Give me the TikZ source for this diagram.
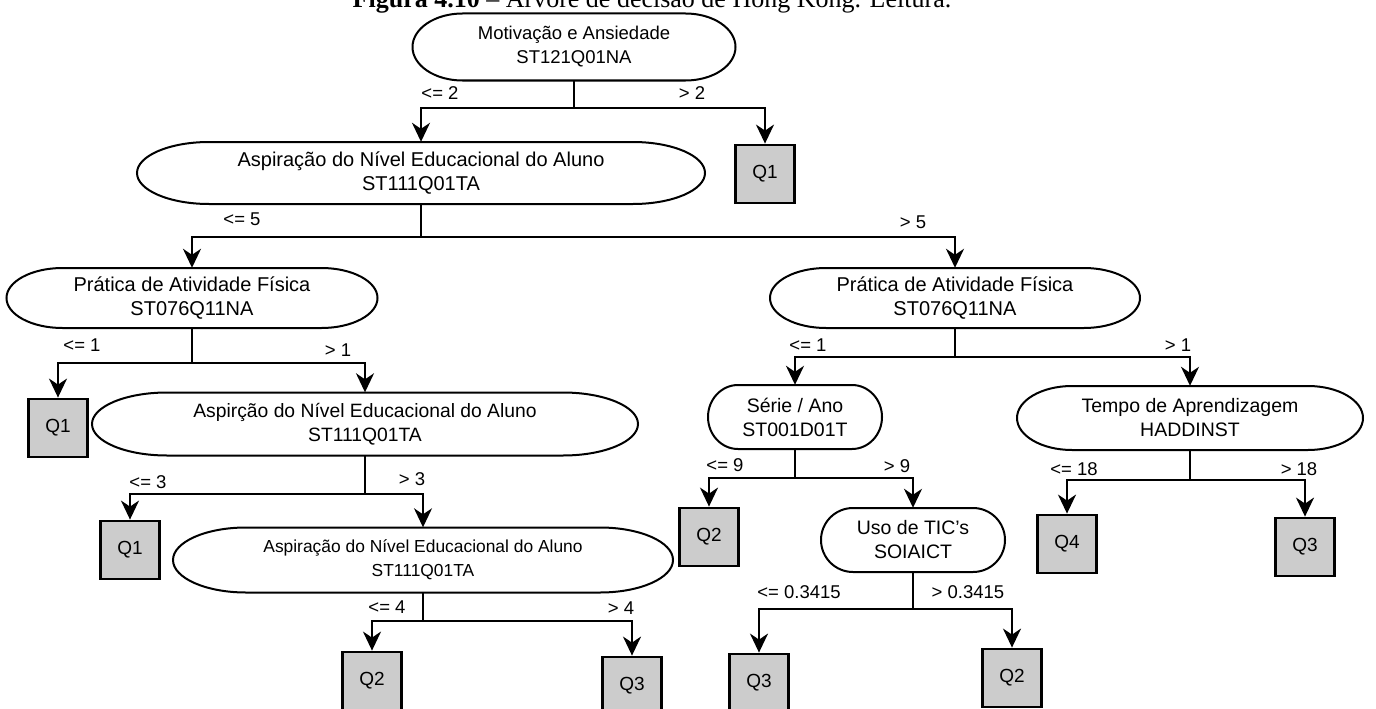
\documentclass[tikz,border=0pt]{standalone}
\usepackage{fontspec}
\setmainfont{Liberation Sans}
\newfontfamily\captionserif{Liberation Serif}
\usetikzlibrary{arrows.meta}
\definecolor{leafgray}{RGB}{204,204,204}

\tikzset{
  dtext/.style={align=center, inner sep=0pt, draw=none},
  dshape/.style={draw=black, line width=2pt, fill=white},
  leaf/.style={draw=black, fill=leafgray, line width=2.8pt, minimum width=59pt,
    minimum height=58pt, inner sep=0pt, font=\fontsize{19}{22}\selectfont},
  edge/.style={draw=black, line width=2pt, -{Stealth[length=19pt,width=18pt,inset=6pt]}},
  lbl/.style={inner sep=0pt, font=\fontsize{18.5}{20}\selectfont},
  captiontext/.style={inner sep=0pt, anchor=base, font=\captionserif\fontsize{26}{30}\selectfont}
}

% decision node: name, x, y, width, height, cap radius, font size, text
\newcommand\decnode[8]{%
  \draw[dshape] ({#2-#4/2+#6},{#3-#5/2}) -- ({#2+#4/2-#6},{#3-#5/2})
    arc[start angle=90, end angle=-90, x radius=#6pt, y radius=#5pt/2]
    -- ({#2-#4/2+#6},{#3+#5/2})
    arc[start angle=270, end angle=90, x radius=#6pt, y radius=#5pt/2] -- cycle;
  \node[dtext, minimum width=#4pt, minimum height=#5pt,
    font=\fontsize{#7}{24}\selectfont] (#1) at (#2,#3) {#8};
}

\begin{document}
\begin{tikzpicture}[x=1pt, y=-1pt]
\clip (0,0) rectangle (1376,709);
\useasboundingbox (0,0) rectangle (1376,709);

% caption
\node[captiontext] (caption) at (652,8) {\textbf{Figura 4.10} – Árvore de decisão de Hong Kong. Leitura.};

% decision nodes
\decnode{root}{574}{47}{323}{67}{50}{18.5}{Motivação e Ansiedade\\ST121Q01NA}
\decnode{asp1}{421}{173}{568}{62}{72}{20}{Aspiração do Nível Educacional do Aluno\\ST111Q01TA}
\decnode{praL}{192}{298}{371}{60}{56}{20}{Prática de Atividade Física\\ST076Q11NA}
\decnode{praR}{955}{298}{370}{60}{56}{20}{Prática de Atividade Física\\ST076Q11NA}
\decnode{asp2}{365}{424}{546}{63}{75}{19.3}{Aspirção do Nível Educacional do Aluno\\ST111Q01TA}
\decnode{asp3}{423}{560}{500}{65}{73}{17.4}{Aspiração do Nível Educacional do Aluno\\ST111Q01TA}
\decnode{serie}{795}{417}{174}{64}{30}{19.5}{Série / Ano\\ST001D01T}
\decnode{tempo}{1190}{418}{346}{64}{55}{19.5}{Tempo de Aprendizagem\\HADDINST}
\decnode{tic}{913}{540}{184}{64}{32}{19.5}{Uso de TIC's\\SOIAICT}

% leaf nodes
\node[leaf] (q1a) at (765,174) {Q1};
\node[leaf] (q1b) at (58,428) {Q1};
\node[leaf] (q1c) at (130,550) {Q1};
\node[leaf] (q2a) at (372,681) {Q2};
\node[leaf] (q3a) at (632,686) {Q3};
\node[leaf] (q2b) at (709,537) {Q2};
\node[leaf] (q3b) at (759,683) {Q3};
\node[leaf] (q2c) at (1012,678) {Q2};
\node[leaf] (q4)  at (1067,544) {Q4};
\node[leaf] (q3c) at (1305,547) {Q3};

% connectors
\draw[edge] (root.south) -- ++(0,27) -| (asp1.north);
\draw[edge] (root.south) -- ++(0,27) -| (q1a.north);
\draw[edge] (asp1.south) -- ++(0,33) -| (praL.north);
\draw[edge] (asp1.south) -- ++(0,33) -| (praR.north);
\draw[edge] (praL.south) -- ++(0,35) -| (q1b.north);
\draw[edge] (praL.south) -- ++(0,35) -| (asp2.north);
\draw[edge] (asp2.south) -- ++(0,38) -| (q1c.north);
\draw[edge] (asp2.south) -- ++(0,38) -| (asp3.north);
\draw[edge] (asp3.south) -- ++(0,28) -| (q2a.north);
\draw[edge] (asp3.south) -- ++(0,28) -| (q3a.north);
\draw[edge] (praR.south) -- ++(0,29) -| (serie.north);
\draw[edge] (praR.south) -- ++(0,29) -| (tempo.north);
\draw[edge] (serie.south) -- ++(0,29) -| (q2b.north);
\draw[edge] (serie.south) -- ++(0,29) -| (tic.north);
\draw[edge] (tic.south) -- ++(0,37) -| (q3b.north);
\draw[edge] (tic.south) -- ++(0,37) -| (q2c.north);
\draw[edge] (tempo.south) -- ++(0,30) -| (q4.north);
\draw[edge] (tempo.south) -- ++(0,30) -| (q3c.north);

% branch labels
\node[lbl] (lr1) at (440,93) {<= 2};
\node[lbl] (lr2) at (692,93) {> 2};
\node[lbl] (la1) at (242,219) {<= 5};
\node[lbl] (la2) at (913,222) {> 5};
\node[lbl] (lp1) at (82,345) {<= 1};
\node[lbl] (lp2) at (338,350) {> 1};
\node[lbl] (lb1) at (148,482) {<= 3};
\node[lbl] (lb2) at (412,479) {> 3};
\node[lbl] (lc1) at (387,607) {<= 4};
\node[lbl] (lc2) at (621,608) {> 4};
\node[lbl] (lq1) at (808,345) {<= 1};
\node[lbl] (lq2) at (1178,345) {> 1};
\node[lbl] (ls1) at (725,465) {<= 9};
\node[lbl] (ls2) at (897,466) {> 9};
\node[lbl] (lt1) at (799,592) {<= 0.3415};
\node[lbl] (lt2) at (968,592) {> 0.3415};
\node[lbl] (lm1) at (1074,469) {<= 18};
\node[lbl] (lm2) at (1299,469) {> 18};
\end{tikzpicture}
\end{document}
